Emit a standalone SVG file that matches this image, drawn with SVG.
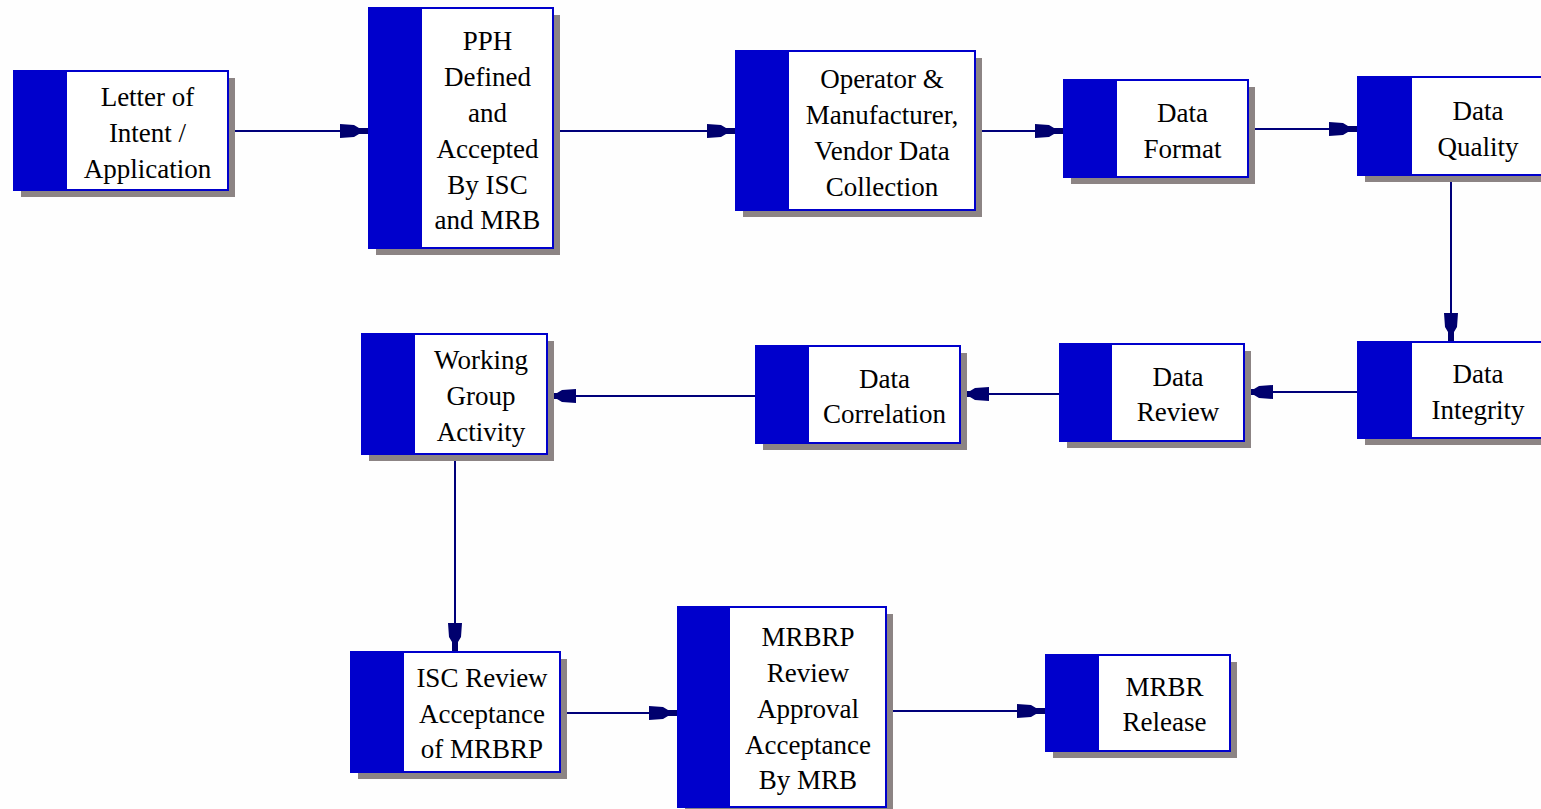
<svg xmlns="http://www.w3.org/2000/svg" width="1541" height="809" viewBox="0 0 1541 809">
<style>
.sh{fill:#8c8484}
.bx{fill:#ffffff;stroke:#0000cc;stroke-width:2}
.st{fill:#0000cc}
.cn{stroke:#00007a;stroke-width:2;fill:none;marker-end:url(#ah)}
</style>
<defs>
<marker id="ah" markerUnits="userSpaceOnUse" viewBox="-28 -8 29 16" refX="0" refY="0" markerWidth="29" markerHeight="16" orient="auto">
<path d="M-28,-7 L-14,-6 L-9,-3 L0,-3 L0,3 L-9,3 L-14,6 L-28,7 Z" fill="#00006e"/>
</marker>
</defs>
<rect width="1541" height="809" fill="#fefefe"/>
<g id="connectors">
<line class="cn" x1="229" y1="131" x2="368" y2="131"/>
<line class="cn" x1="554" y1="131" x2="735" y2="131"/>
<line class="cn" x1="976" y1="131" x2="1063" y2="131"/>
<line class="cn" x1="1249" y1="129" x2="1357" y2="129"/>
<line class="cn" x1="1451" y1="176" x2="1451" y2="341"/>
<line class="cn" x1="1357" y1="392" x2="1245" y2="392"/>
<line class="cn" x1="1059" y1="394" x2="961" y2="394"/>
<line class="cn" x1="755" y1="396" x2="548" y2="396"/>
<line class="cn" x1="455" y1="455" x2="455" y2="651"/>
<line class="cn" x1="561" y1="713" x2="677" y2="713"/>
<line class="cn" x1="887" y1="711" x2="1045" y2="711"/>
</g>
<g id="n1">
<rect class="sh" x="21" y="78" width="214" height="119"/>
<rect class="bx" x="14" y="71" width="214" height="119"/>
<rect class="st" x="14" y="71" width="53" height="119"/>
<text font-family="Liberation Serif" font-size="27" text-anchor="middle" x="147.5" y="106">Letter of</text>
<text font-family="Liberation Serif" font-size="27" text-anchor="middle" x="147.5" y="142">Intent /</text>
<text font-family="Liberation Serif" font-size="27" text-anchor="middle" x="147.5" y="178">Application</text>
</g>
<g id="n2">
<rect class="sh" x="376" y="15" width="184" height="240"/>
<rect class="bx" x="369" y="8" width="184" height="240"/>
<rect class="st" x="369" y="8" width="53" height="240"/>
<text font-family="Liberation Serif" font-size="27" text-anchor="middle" x="487.5" y="50">PPH</text>
<text font-family="Liberation Serif" font-size="27" text-anchor="middle" x="487.5" y="86">Defined</text>
<text font-family="Liberation Serif" font-size="27" text-anchor="middle" x="487.5" y="122">and</text>
<text font-family="Liberation Serif" font-size="27" text-anchor="middle" x="487.5" y="158">Accepted</text>
<text font-family="Liberation Serif" font-size="27" text-anchor="middle" x="487.5" y="194">By ISC</text>
<text font-family="Liberation Serif" font-size="27" text-anchor="middle" x="487.5" y="229">and MRB</text>
</g>
<g id="n3">
<rect class="sh" x="743" y="58" width="239" height="159"/>
<rect class="bx" x="736" y="51" width="239" height="159"/>
<rect class="st" x="736" y="51" width="53" height="159"/>
<text font-family="Liberation Serif" font-size="27" text-anchor="middle" x="882" y="88">Operator &amp;</text>
<text font-family="Liberation Serif" font-size="27" text-anchor="middle" x="882" y="124">Manufacturer,</text>
<text font-family="Liberation Serif" font-size="27" text-anchor="middle" x="882" y="160">Vendor Data</text>
<text font-family="Liberation Serif" font-size="27" text-anchor="middle" x="882" y="196">Collection</text>
</g>
<g id="n4">
<rect class="sh" x="1071" y="87" width="184" height="97"/>
<rect class="bx" x="1064" y="80" width="184" height="97"/>
<rect class="st" x="1064" y="80" width="53" height="97"/>
<text font-family="Liberation Serif" font-size="27" text-anchor="middle" x="1182.5" y="122">Data</text>
<text font-family="Liberation Serif" font-size="27" text-anchor="middle" x="1182.5" y="158">Format</text>
</g>
<g id="n5">
<rect class="sh" x="1365" y="84" width="186" height="98"/>
<rect class="bx" x="1358" y="77" width="186" height="98"/>
<rect class="st" x="1358" y="77" width="54" height="98"/>
<text font-family="Liberation Serif" font-size="27" text-anchor="middle" x="1478" y="120">Data</text>
<text font-family="Liberation Serif" font-size="27" text-anchor="middle" x="1478" y="156">Quality</text>
</g>
<g id="n6">
<rect class="sh" x="1365" y="349" width="186" height="96"/>
<rect class="bx" x="1358" y="342" width="186" height="96"/>
<rect class="st" x="1358" y="342" width="54" height="96"/>
<text font-family="Liberation Serif" font-size="27" text-anchor="middle" x="1478" y="383">Data</text>
<text font-family="Liberation Serif" font-size="27" text-anchor="middle" x="1478" y="419">Integrity</text>
</g>
<g id="n7">
<rect class="sh" x="1067" y="351" width="184" height="97"/>
<rect class="bx" x="1060" y="344" width="184" height="97"/>
<rect class="st" x="1060" y="344" width="52" height="97"/>
<text font-family="Liberation Serif" font-size="27" text-anchor="middle" x="1178" y="386">Data</text>
<text font-family="Liberation Serif" font-size="27" text-anchor="middle" x="1178" y="421">Review</text>
</g>
<g id="n8">
<rect class="sh" x="763" y="353" width="204" height="97"/>
<rect class="bx" x="756" y="346" width="204" height="97"/>
<rect class="st" x="756" y="346" width="53" height="97"/>
<text font-family="Liberation Serif" font-size="27" text-anchor="middle" x="884.5" y="388">Data</text>
<text font-family="Liberation Serif" font-size="27" text-anchor="middle" x="884.5" y="423">Correlation</text>
</g>
<g id="n9">
<rect class="sh" x="369" y="341" width="185" height="120"/>
<rect class="bx" x="362" y="334" width="185" height="120"/>
<rect class="st" x="362" y="334" width="53" height="120"/>
<text font-family="Liberation Serif" font-size="27" text-anchor="middle" x="481" y="369">Working</text>
<text font-family="Liberation Serif" font-size="27" text-anchor="middle" x="481" y="405">Group</text>
<text font-family="Liberation Serif" font-size="27" text-anchor="middle" x="481" y="441">Activity</text>
</g>
<g id="n10">
<rect class="sh" x="358" y="659" width="209" height="120"/>
<rect class="bx" x="351" y="652" width="209" height="120"/>
<rect class="st" x="351" y="652" width="53" height="120"/>
<text font-family="Liberation Serif" font-size="27" text-anchor="middle" x="482" y="687">ISC Review</text>
<text font-family="Liberation Serif" font-size="27" text-anchor="middle" x="482" y="723">Acceptance</text>
<text font-family="Liberation Serif" font-size="27" text-anchor="middle" x="482" y="758">of MRBRP</text>
</g>
<g id="n11">
<rect class="sh" x="685" y="614" width="208" height="200"/>
<rect class="bx" x="678" y="607" width="208" height="200"/>
<rect class="st" x="678" y="607" width="52" height="200"/>
<text font-family="Liberation Serif" font-size="27" text-anchor="middle" x="808" y="646">MRBRP</text>
<text font-family="Liberation Serif" font-size="27" text-anchor="middle" x="808" y="682">Review</text>
<text font-family="Liberation Serif" font-size="27" text-anchor="middle" x="808" y="718">Approval</text>
<text font-family="Liberation Serif" font-size="27" text-anchor="middle" x="808" y="754">Acceptance</text>
<text font-family="Liberation Serif" font-size="27" text-anchor="middle" x="808" y="789">By MRB</text>
</g>
<g id="n12">
<rect class="sh" x="1053" y="662" width="184" height="96"/>
<rect class="bx" x="1046" y="655" width="184" height="96"/>
<rect class="st" x="1046" y="655" width="53" height="96"/>
<text font-family="Liberation Serif" font-size="27" text-anchor="middle" x="1164.5" y="696">MRBR</text>
<text font-family="Liberation Serif" font-size="27" text-anchor="middle" x="1164.5" y="731">Release</text>
</g>
</svg>
